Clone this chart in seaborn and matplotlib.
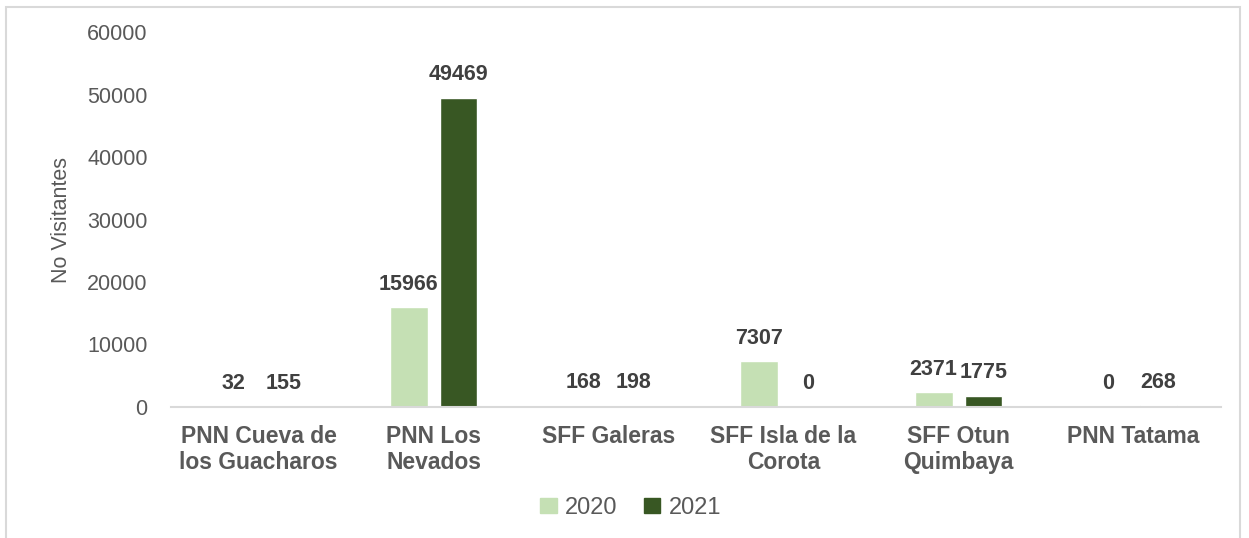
import matplotlib
matplotlib.use('Agg')
import matplotlib.pyplot as plt
import matplotlib.patches as mpatches
import pandas as pd
import seaborn as sns

# data
areas = ['PNN Cueva de\nlos Guacharos', 'PNN Los\nNevados', 'SFF Galeras',
         'SFF Isla de la\nCorota', 'SFF Otun\nQuimbaya', 'PNN Tatama']
years = ['2020', '2021']
visitors_2020 = [32, 15966, 168, 7307, 2371, 0]
visitors_2021 = [155, 49469, 198, 0, 1775, 268]
y_ticks = [0, 10000, 20000, 30000, 40000, 50000, 60000]

colors = ['#C5E0B4', '#385723']
text_grey = '#595959'
label_dark = '#404040'

df = pd.DataFrame({
    'area': areas * 2,
    'year': [years[0]] * len(areas) + [years[1]] * len(areas),
    'visitors': visitors_2020 + visitors_2021,
})

sns.set_style('white')
plt.rcParams['font.family'] = ['Liberation Sans', 'DejaVu Sans']

fig = plt.figure(figsize=(12.49, 5.38), dpi=100)
ax = fig.add_axes([0.137, 0.2435, 0.8406, 0.697])

sns.barplot(data=df, x='area', y='visitors', hue='year', order=areas,
            hue_order=years, palette=colors, width=0.57, gap=0.24,
            saturation=1, ax=ax, legend=False)

for cont in ax.containers:
    ax.bar_label(cont, fmt='%d', padding=9, fontsize=15.5, fontweight='bold',
                 color=label_dark)

ax.set_xlim(-0.5, len(areas) - 0.5)
ax.set_ylim(0, 60000)
ax.set_yticks(y_ticks)
ax.set_yticklabels([str(v) for v in y_ticks], fontsize=15.5, color=text_grey)
ax.tick_params(axis='y', length=0, pad=17)
ax.tick_params(axis='x', length=0, pad=13)
for lbl in ax.get_xticklabels():
    lbl.set_fontsize(16.5)
    lbl.set_fontweight('bold')
    lbl.set_color(text_grey)
    lbl.set_linespacing(1.15)

ax.set_xlabel('')
ax.set_ylabel('No Visitantes', fontsize=15.5, color=text_grey, labelpad=11)

for side in ['top', 'right', 'left']:
    ax.spines[side].set_visible(False)
ax.spines['bottom'].set_color('#D9D9D9')
ax.spines['bottom'].set_linewidth(1.5)

handles = [mpatches.Patch(color=c, label=y) for c, y in zip(colors, years)]
leg = fig.legend(handles=handles, loc='center', bbox_to_anchor=(0.505, 0.056),
                 ncol=2, frameon=False, fontsize=17, handlelength=0.7,
                 handleheight=0.55, handletextpad=0.35, columnspacing=1.1)
for t in leg.get_texts():
    t.set_color(text_grey)

# light chart border
border = mpatches.Rectangle((6 / 1249, -0.01), (1240 - 6) / 1249, 1.01 - 7 / 538,
                            transform=fig.transFigure, fill=False,
                            edgecolor='#D9D9D9', linewidth=1.5)
fig.patches.append(border)

fig.savefig('out.png', dpi=100)
